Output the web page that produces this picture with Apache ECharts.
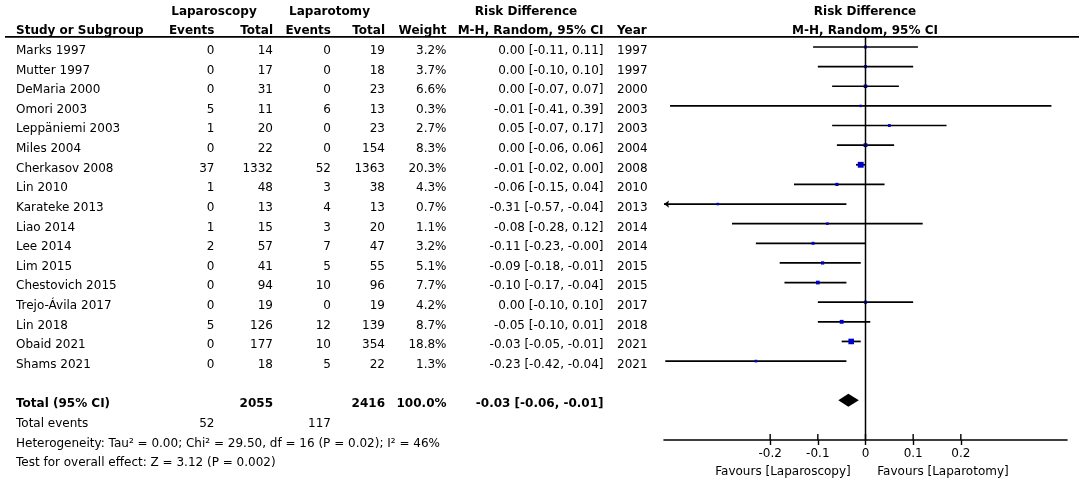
<!DOCTYPE html>
<html>
<head>
<meta charset="utf-8">
<script src="https://cdn.jsdelivr.net/npm/echarts@6/dist/echarts.min.js"></script>
<style>html,body{margin:0;padding:0;background:#fff}#c{width:1084px;height:485px}</style>
</head>
<body>
<div id="c"></div>
<script>
// ---------- data ----------
const studies = ['Marks 1997','Mutter 1997','DeMaria 2000','Omori 2003','Leppäniemi 2003','Miles 2004','Cherkasov 2008','Lin 2010','Karateke 2013','Liao 2014','Lee 2014','Lim 2015','Chestovich 2015','Trejo-Ávila 2017','Lin 2018','Obaid 2021','Shams 2021'];
const lapEvents = [0,0,0,5,1,0,37,1,0,1,2,0,0,0,5,0,0];
const lapTotal  = [14,17,31,11,20,22,1332,48,13,15,57,41,94,19,126,177,18];
const lotEvents = [0,0,0,6,0,0,52,3,4,3,7,5,10,0,12,10,5];
const lotTotal  = [19,18,23,13,23,154,1363,38,13,20,47,55,96,19,139,354,22];
const weights   = [3.2,3.7,6.6,0.3,2.7,8.3,20.3,4.3,0.7,1.1,3.2,5.1,7.7,4.2,8.7,18.8,1.3];
const rd        = [0.00,0.00,0.00,-0.01,0.05,0.00,-0.01,-0.06,-0.31,-0.08,-0.11,-0.09,-0.10,0.00,-0.05,-0.03,-0.23];
const ciLow     = [-0.11,-0.10,-0.07,-0.41,-0.07,-0.06,-0.02,-0.15,-0.57,-0.28,-0.23,-0.18,-0.17,-0.10,-0.10,-0.05,-0.42];
const ciHigh    = [0.11,0.10,0.07,0.39,0.17,0.06,0.00,0.04,-0.04,0.12,-0.00,-0.01,-0.04,0.10,0.01,-0.01,-0.04];
const years     = [1997,1997,2000,2003,2003,2004,2008,2010,2013,2014,2014,2015,2015,2017,2018,2021,2021];
const pooled    = [-0.036,-0.057,-0.014]; // plotted diamond: estimate, low, high
const pooledText = '-0.03 [-0.06, -0.01]';
const totalWeight = '100.0%';
const heterogeneity = 'Heterogeneity: Tau² = 0.00; Chi² = 29.50, df = 16 (P = 0.02); I² = 46%';
const overallTest = 'Test for overall effect: Z = 3.12 (P = 0.002)';
const xTicks = [-0.2,-0.1,0,0.1,0.2];
const favours = ['Favours [Laparoscopy]','Favours [Laparotomy]'];

// ---------- layout ----------
const W = 1084, H = 485;
const ROW0 = 47, ROWH = 19.63, TEXT_DY = 3.8;
const AXIS_Y = 440;
const XMIN = -0.4227, XMAX = 0.4227;
const FONT = '"DejaVu Sans", sans-serif';
const sum = a => a.reduce((s, v) => s + v, 0);
const f2 = v => ((v < 0 || Object.is(v, -0)) ? '-' : '') + Math.abs(v).toFixed(2);

// column definitions: [x, align]
const COL = {name:[16,'left'], le:[214.5,'right'], lt:[273,'right'], oe:[331,'right'], ot:[385,'right'], w:[446.5,'right'], ci:[603.5,'right'], yr:[617,'left']};

const texts = [];
function T(col, row, text, bold, align) {
  const c = Array.isArray(col) ? col : [col, align || 'center'];
  texts.push({x: c[0], row: row, text: String(text), bold: !!bold, align: c[1]});
}
// headers
T(214, -2, 'Laparoscopy', true);
T(329.5, -2, 'Laparotomy', true);
T(526, -2, 'Risk Difference', true);
T(865, -2, 'Risk Difference', true);
T(COL.name, -1, 'Study or Subgroup', true);
T(COL.le, -1, 'Events', true);
T(COL.lt, -1, 'Total', true);
T(COL.oe, -1, 'Events', true);
T(COL.ot, -1, 'Total', true);
T(COL.w, -1, 'Weight', true);
T(COL.ci, -1, 'M-H, Random, 95% CI', true);
T(COL.yr, -1, 'Year', true);
T(865, -1, 'M-H, Random, 95% CI', true);
studies.forEach((s, i) => {
  T(COL.name, i, s);
  T(COL.le, i, lapEvents[i]);
  T(COL.lt, i, lapTotal[i]);
  T(COL.oe, i, lotEvents[i]);
  T(COL.ot, i, lotTotal[i]);
  T(COL.w, i, weights[i].toFixed(1) + '%');
  T(COL.ci, i, f2(rd[i]) + ' [' + f2(ciLow[i]) + ', ' + f2(ciHigh[i]) + ']');
  T(COL.yr, i, years[i]);
});
const TOTAL_ROW = studies.length + 1;
T(COL.name, TOTAL_ROW, 'Total (95% CI)', true);
T(COL.lt, TOTAL_ROW, sum(lapTotal), true);
T(COL.ot, TOTAL_ROW, sum(lotTotal), true);
T(COL.w, TOTAL_ROW, totalWeight, true);
T(COL.ci, TOTAL_ROW, pooledText, true);
T(COL.name, TOTAL_ROW + 1, 'Total events');
T(COL.le, TOTAL_ROW + 1, sum(lapEvents));
T(COL.oe, TOTAL_ROW + 1, sum(lotEvents));
T(COL.name, TOTAL_ROW + 2, heterogeneity);
T(COL.name, TOTAL_ROW + 3, overallTest);
T(783, 21.47, favours[0]);
T(943, 21.47, favours[1]);

const yMinTable = -ROW0 / ROWH, yMaxTable = (H - ROW0) / ROWH;
const yMaxForest = (AXIS_Y - ROW0) / ROWH;
const HEADER_ROW = -0.52;

const chart = echarts.init(document.getElementById('c'), null, {renderer: 'canvas'});
chart.setOption({
  animation: false,
  backgroundColor: '#fff',
  grid: [
    {left: 0, right: 0, top: 0, bottom: 0},
    {left: 664, right: W - 1067, top: 0, bottom: H - AXIS_Y}
  ],
  xAxis: [
    {gridIndex: 0, type: 'value', min: 0, max: W, show: false},
    {gridIndex: 1, type: 'value', min: XMIN, max: XMAX, position: 'bottom',
     axisLine: {show: true, onZero: false, lineStyle: {color: '#000', width: 1.6}},
     axisTick: {show: true, length: 5, customValues: xTicks, lineStyle: {color: '#000', width: 1.4}},
     axisLabel: {show: true, customValues: xTicks, margin: 8, color: '#000', fontSize: 12, fontFamily: FONT,
       formatter: v => (Math.abs(v) < 1e-9 ? '0' : v.toFixed(1))},
     splitLine: {show: false}}
  ],
  yAxis: [
    {gridIndex: 0, type: 'value', min: yMinTable, max: yMaxTable, inverse: true, show: false},
    {gridIndex: 1, type: 'value', min: yMinTable, max: yMaxForest, inverse: true, show: false}
  ],
  series: [
    // header rule
    {type: 'line', xAxisIndex: 0, yAxisIndex: 0, silent: true, symbol: 'none',
     lineStyle: {color: '#000', width: 1.8}, data: [[5, HEADER_ROW], [1079, HEADER_ROW]]},
    // zero line
    {type: 'line', xAxisIndex: 1, yAxisIndex: 1, silent: true, symbol: 'none',
     lineStyle: {color: '#000', width: 1.5}, data: [[0, HEADER_ROW], [0, yMaxForest]]},
    // upper half of axis ticks (ticks cross the axis line)
    {type: 'custom', xAxisIndex: 1, yAxisIndex: 1, silent: true, clip: false,
     data: xTicks.map(v => [v, yMaxForest]),
     renderItem: (params, api) => {
       const p = api.coord([xTicks[params.dataIndex], yMaxForest]);
       return {type: 'line', shape: {x1: p[0], y1: p[1] - 6, x2: p[0], y2: p[1]}, style: {stroke: '#000', lineWidth: 1.4}};
     }},
    // table texts
    {type: 'custom', xAxisIndex: 0, yAxisIndex: 0, silent: true, clip: false,
     data: texts.map(t => [t.x, t.row]),
     renderItem: (params, api) => {
       const t = texts[params.dataIndex];
       const p = api.coord([t.x, t.row]);
       return {type: 'text', style: {text: t.text, x: p[0], y: p[1] + TEXT_DY,
         align: t.align, verticalAlign: 'middle', textAlign: t.align, textVerticalAlign: 'middle',
         font: (t.bold ? 'bold ' : '') + '12px ' + FONT, fill: '#000'}};
     }},
    // study CIs and squares
    {type: 'custom', xAxisIndex: 1, yAxisIndex: 1, silent: true, clip: false,
     data: rd.map((v, i) => [v, i, ciLow[i], ciHigh[i], weights[i]]),
     renderItem: (params, api) => {
       const i = params.dataIndex;
       const lo = Math.max(ciLow[i], XMIN), hi = Math.min(ciHigh[i], XMAX);
       const a = api.coord([lo, i]), b = api.coord([hi, i]), c = api.coord([rd[i], i]);
       const s = 2.4 + 0.17 * weights[i];
       const children = [
         {type: 'line', shape: {x1: a[0], y1: a[1], x2: b[0], y2: b[1]}, style: {stroke: '#000', lineWidth: 1.7}},
         {type: 'rect', shape: {x: c[0] - s / 2, y: c[1] - s / 2, width: s, height: s}, style: {fill: '#0000cc'}}
       ];
       if (ciLow[i] < XMIN) children.push({type: 'polygon', shape: {points: [[a[0], a[1]], [a[0] + 5, a[1] - 3.6], [a[0] + 4, a[1]], [a[0] + 5, a[1] + 3.6]]}, style: {fill: '#000'}});
       if (ciHigh[i] > XMAX) children.push({type: 'polygon', shape: {points: [[b[0], b[1]], [b[0] - 5, b[1] - 3.6], [b[0] - 4, b[1]], [b[0] - 5, b[1] + 3.6]]}, style: {fill: '#000'}});
       return {type: 'group', children};
     }},
    // pooled diamond
    {type: 'custom', xAxisIndex: 1, yAxisIndex: 1, silent: true, clip: false,
     data: [[pooled[0], TOTAL_ROW, pooled[1], pooled[2]]],
     renderItem: (params, api) => {
       const r = TOTAL_ROW, h = 6.5 / ROWH;
       const pts = [api.coord([pooled[1], r]), api.coord([pooled[0], r - h]), api.coord([pooled[2], r]), api.coord([pooled[0], r + h])];
       return {type: 'polygon', shape: {points: pts}, style: {fill: '#000'}};
     }}
  ]
});
</script>
</body>
</html>
